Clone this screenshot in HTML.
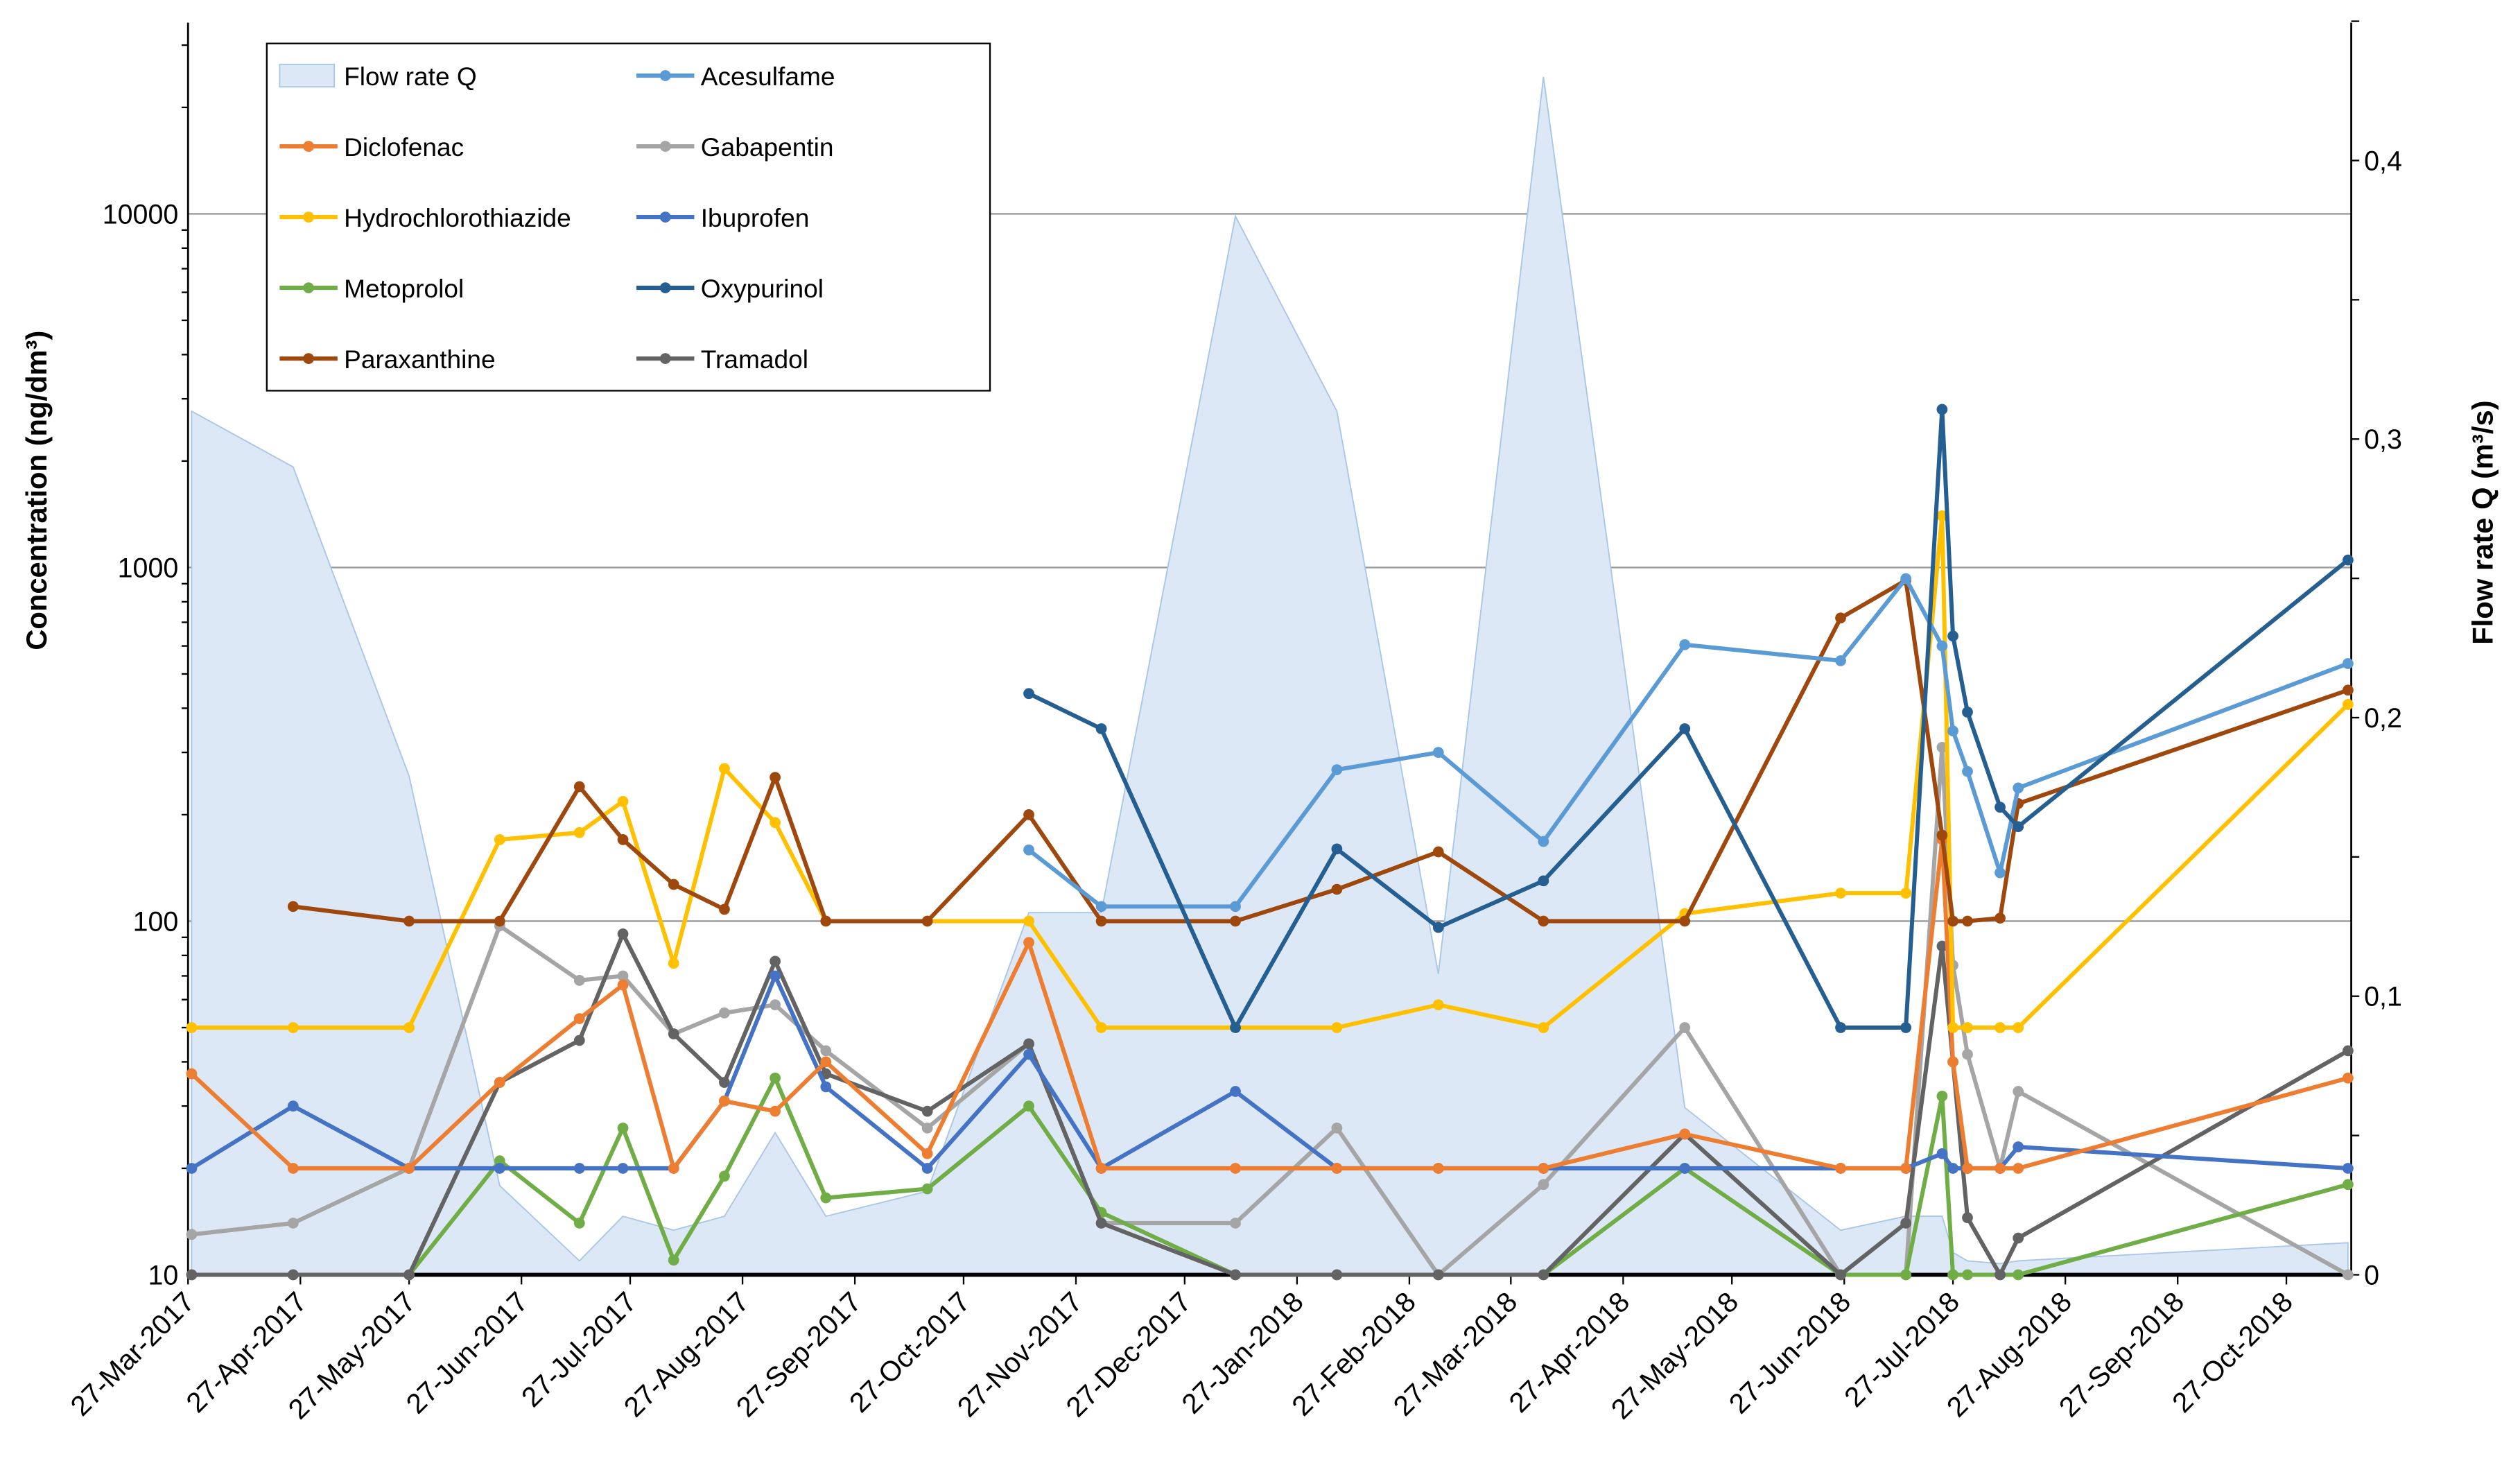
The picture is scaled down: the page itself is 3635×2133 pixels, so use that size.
<!DOCTYPE html>
<html><head><meta charset="utf-8"><style>
html,body{margin:0;padding:0;background:#fff}
svg{display:block;font-family:"Liberation Sans",sans-serif}
</style></head><body>
<svg id="chart" width="3635" height="2133" viewBox="0 0 1568 920" xmlns="http://www.w3.org/2000/svg">
<g id="grid"></g>
<g id="flow"></g>
<g id="axes"></g>
<g id="series"></g>
<g id="legend"></g>
<text transform="translate(29,305) rotate(-90)" text-anchor="middle" font-size="18" font-weight="bold">Concentration  (ng/dm³)</text>
<text transform="translate(1551,325) rotate(-90)" text-anchor="middle" font-size="18" font-weight="bold">Flow rate Q  (m³/s)</text>
</svg>
<script>
const sampleDays=[1,29,61,86,108,120,134,148,162,176,204,232,252,289,317,345,374,413,456,474,484,487,491,500,505,596];
const flowRate=[0.31,0.29,0.179,0.032,0.005,0.021,0.016,0.021,0.051,0.021,0.03,0.13,0.13,0.38,0.31,0.108,0.43,0.06,0.016,0.021,0.021,0.008,0.005,0.004,0.005,0.0115];
const acesulfame=[null,null,null,null,null,null,null,null,null,null,null,159,110,110,268,300,168,605,545,930,600,345,265,137,238,535];
const diclofenac=[37,20,20,35,53,66,20,31,29,40,22,87,20,20,20,20,20,25,20,20,170,40,20,20,20,36];
const gabapentin=[13,14,20,97,68,70,48,55,58,43,26,45,14,14,26,10,18,50,10,10,310,75,42,20,33,10];
const hydrochlorothiazide=[50,50,50,170,178,218,76,270,190,100,100,100,50,50,50,58,50,105,120,120,1400,50,50,50,50,410];
const ibuprofen=[20,30,20,20,20,20,20,31,70,34,20,42,20,33,20,20,20,20,20,20,22,20,20,20,23,20];
const metoprolol=[10,10,10,21,14,26,11,19,36,16.5,17.5,30,15,10,10,10,10,20,10,10,32,10,10,10,10,18];
const oxypurinol=[null,null,null,null,null,null,null,null,null,null,null,440,350,50,160,96,130,350,50,50,2800,640,390,210,185,1050];
const paraxanthine=[null,110,100,100,240,170,127,108,255,100,100,200,100,100,123,157,100,100,720,920,175,100,100,102,215,450];
const tramadol=[10,10,10,35,46,92,48,35,77,37,29,45,14,10,10,10,10,25,10,14,85,40,14.5,10,12.7,43];
const xTickLabels=["27-Mar-2017","27-Apr-2017","27-May-2017","27-Jun-2017","27-Jul-2017","27-Aug-2017","27-Sep-2017","27-Oct-2017","27-Nov-2017","27-Dec-2017","27-Jan-2018","27-Feb-2018","27-Mar-2018","27-Apr-2018","27-May-2018","27-Jun-2018","27-Jul-2018","27-Aug-2018","27-Sep-2018","27-Oct-2018"];
const xTickDays=[0,31,61,92,122,153,184,214,245,275,306,337,365,396,426,457,487,518,549,579];
const yTicks=[10,100,1000,10000];
const y2Ticks=[0,0.1,0.2,0.3,0.4];

const NS="http://www.w3.org/2000/svg";
const L=117,R=1463,T=14,B=793;
const x=d=>L+d*2.255;
const y=v=>B-220*Math.log10(v/10);
const y2=q=>B-q*1733;
function el(tag,attrs,parent,text){const e=document.createElementNS(NS,tag);for(const k in attrs)e.setAttribute(k,attrs[k]);if(text!==undefined)e.textContent=text;parent.appendChild(e);return e;}
const grid=document.getElementById('grid'),axes=document.getElementById('axes'),flow=document.getElementById('flow'),ser=document.getElementById('series'),leg=document.getElementById('legend');

yTicks.forEach(v=>{
  if(v>10){const g=el('line',{x1:L,x2:R,y1:y(v),y2:y(v),stroke:'#9a9a9a','stroke-width':1},grid);
  
  }
  const t=el('text',{x:L-6,y:y(v)+6,'text-anchor':'end','font-size':17},axes,String(v));
  
  
});
for(let dec=10;dec<=10000;dec*=10){for(let m=2;m<=9;m++){const v=dec*m;if(y(v)<T)continue;el('line',{x1:L-4,x2:L,y1:y(v),y2:y(v),stroke:'#000','stroke-width':1},axes);}}
y2Ticks.forEach(q=>{
  const t=el('text',{x:R+8,y:y2(q)+6,'font-size':17},axes,String(q).replace('.',','));
  
  
});
for(let q=0;q<=0.45;q+=0.05){el('line',{x1:R,x2:R+5,y1:y2(q),y2:y2(q),stroke:'#000','stroke-width':1},axes);}

let d='M'+x(sampleDays[0])+','+B;
sampleDays.forEach((s,i)=>{d+=' L'+x(s)+','+y2(flowRate[i]);});
d+=' L'+x(sampleDays[sampleDays.length-1])+','+B+' Z';
const fa=el('path',{d:d,fill:'#dce8f5',stroke:'#a9c6e6','stroke-width':0.8},flow);



el('line',{x1:L,x2:L,y1:T,y2:B,stroke:'#000','stroke-width':1.2},axes);
el('line',{x1:R,x2:R,y1:T,y2:B,stroke:'#000','stroke-width':1.2},axes);
el('line',{x1:L,x2:R,y1:B,y2:B,stroke:'#000','stroke-width':2.5},axes);
xTickDays.forEach((dd,i)=>{
  el('line',{x1:x(dd),x2:x(dd),y1:B,y2:B+6,stroke:'#000','stroke-width':1},axes);
  const t=el('text',{transform:'translate('+(x(dd)+5)+','+(B+18)+') rotate(-45)','text-anchor':'end','font-size':17.5},axes,xTickLabels[i]);
  
  
});

const seriesList=[
 ['acesulfame',acesulfame,'#5b9bd5'],['diclofenac',diclofenac,'#ed7d31'],['gabapentin',gabapentin,'#a5a5a5'],
 ['hydrochlorothiazide',hydrochlorothiazide,'#ffc000'],['ibuprofen',ibuprofen,'#4472c4'],['metoprolol',metoprolol,'#70ad47'],
 ['oxypurinol',oxypurinol,'#255e91'],['paraxanthine',paraxanthine,'#9e480e'],['tramadol',tramadol,'#636363']];
const drawOrder=['gabapentin','metoprolol','tramadol','ibuprofen','diclofenac','hydrochlorothiazide','paraxanthine','acesulfame','oxypurinol'];
drawOrder.forEach(name=>{
  const s=seriesList.find(a=>a[0]===name);const vals=s[1],col=s[2];
  const g=el('g',{},ser);
  
  
  let p='';vals.forEach((v,i)=>{if(v==null)return;p+=(p?' L':'M')+x(sampleDays[i])+','+y(v);});
  el('path',{d:p,fill:'none',stroke:col,'stroke-width':2.6,'stroke-linejoin':'round'},g);
  vals.forEach((v,i)=>{if(v==null)return;const c=el('circle',{cx:x(sampleDays[i]),cy:y(v),r:3.4,fill:col},g);
    
    });
});

const lb=el('rect',{x:166,y:27,width:450,height:216,fill:'#fff',stroke:'#000','stroke-width':1},leg);


const legendNames=['Flow rate Q','Acesulfame','Diclofenac','Gabapentin','Hydrochlorothiazide','Ibuprofen','Metoprolol','Oxypurinol','Paraxanthine','Tramadol'];
const legendCols=[null,'#5b9bd5','#ed7d31','#a5a5a5','#ffc000','#4472c4','#70ad47','#255e91','#9e480e','#636363'];
legendNames.forEach((n,i)=>{
  const col=i%2,row=Math.floor(i/2);
  const lx=col?396:174,ly=47+row*44;
  const g=el('g',{},leg);
  
  
  if(i===0){el('rect',{x:lx,y:ly-7,width:34,height:14,fill:'#dce8f5',stroke:'#a9c6e6','stroke-width':0.8},g);}
  else{el('line',{x1:lx,x2:lx+36,y1:ly,y2:ly,stroke:legendCols[i],'stroke-width':2.6},g);
       el('circle',{cx:lx+18,cy:ly,r:3.4,fill:legendCols[i]},g);}
  el('text',{x:lx+40,y:ly+6,'font-size':16},g,n);
});
</script>
</body></html>
